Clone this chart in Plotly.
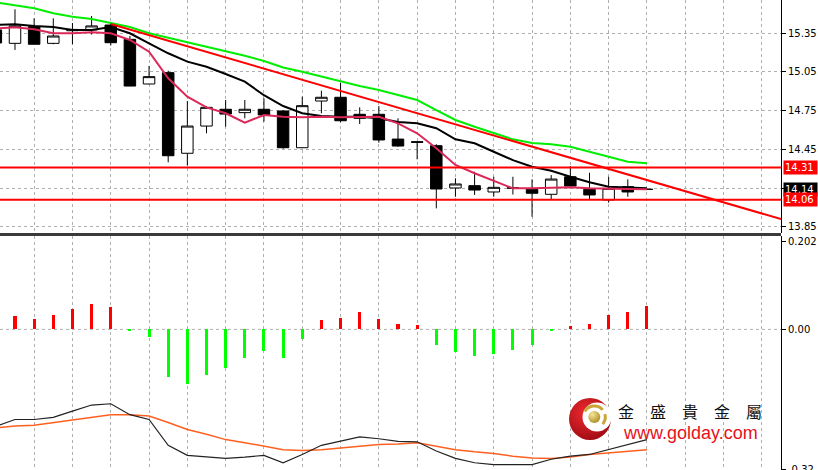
import base64
import plotly.graph_objects as go

# ---------------- data ----------------
idx = list(range(-1, 34))

opens = [15.376, 15.272, 15.401, 15.272, 15.370, 15.376, 15.414, 15.303, 14.957, 15.045,
         14.420, 14.631, 14.761, 14.735, 14.761, 14.748, 14.463, 14.825, 14.854, 14.722,
         14.722, 14.530, 14.510, 14.479, 14.151, 14.169, 14.120, 14.153, 14.141, 14.102,
         14.238, 14.141, 14.058, 14.161, 14.140]
highs = [15.400, 15.536, 15.466, 15.466, 15.430, 15.484, 15.430, 15.330, 15.097, 15.060,
         14.825, 14.786, 14.833, 14.833, 14.846, 14.755, 14.859, 14.905, 14.967, 14.776,
         14.786, 14.691, 14.515, 14.490, 14.226, 14.277, 14.238, 14.238, 14.218, 14.251,
         14.321, 14.269, 14.238, 14.218, 14.150]
lows = [15.250, 15.221, 15.265, 15.265, 15.265, 15.340, 15.255, 14.940, 14.955, 14.350,
        14.324, 14.575, 14.626, 14.691, 14.665, 14.455, 14.460, 14.730, 14.660, 14.647,
        14.502, 14.470, 14.373, 13.993, 14.083, 14.097, 14.083, 14.100, 13.928, 14.058,
        14.160, 14.063, 14.037, 14.083, 14.135]
closes = [15.275, 15.407, 15.265, 15.329, 15.380, 15.407, 15.277, 14.941, 15.014, 14.401,
          14.631, 14.776, 14.724, 14.761, 14.717, 14.463, 14.789, 14.854, 14.672, 14.691,
          14.523, 14.476, 14.505, 14.143, 14.182, 14.135, 14.156, 14.150, 14.110, 14.220,
          14.166, 14.097, 14.148, 14.120, 14.140]

ma_slow = [15.590, 15.569, 15.544, 15.505, 15.479, 15.461, 15.428, 15.399, 15.350, 15.316,
           15.280, 15.246, 15.213, 15.176, 15.135, 15.085, 15.052, 15.014, 14.975, 14.941,
           14.910, 14.872, 14.833, 14.755, 14.678, 14.626, 14.575, 14.528, 14.500, 14.490,
           14.470, 14.430, 14.390, 14.355, 14.342]
ma_mid = [15.414, 15.420, 15.407, 15.399, 15.376, 15.376, 15.399, 15.350, 15.272, 15.195,
          15.130, 15.091, 15.034, 14.975, 14.870, 14.786, 14.730, 14.709, 14.703, 14.703,
          14.691, 14.662, 14.652, 14.614, 14.528, 14.497, 14.432, 14.367, 14.316, 14.285,
          14.238, 14.195, 14.161, 14.153, 14.148]
ma_fast = [15.387, 15.397, 15.381, 15.350, 15.350, 15.358, 15.350, 15.298, 15.207, 15.001,
           14.859, 14.776, 14.730, 14.657, 14.717, 14.703, 14.699, 14.703, 14.699, 14.703,
           14.703, 14.652, 14.575, 14.459, 14.329, 14.265, 14.207, 14.148, 14.148, 14.153,
           14.156, 14.148, 14.148, 14.143, 14.141]

trend_x = [5, 40]
trend_y = [15.422, 13.910]
levels = [14.31, 14.06]

price_ticks = [15.35, 15.05, 14.75, 14.45, 14.15, 13.85]
price_tick_text = ["15.35", "15.05", "14.75", "14.45", "", "13.85"]

hist_idx = list(range(0, 34))
hist = [0.030, 0.023, 0.034, 0.046, 0.059, 0.051, -0.002, -0.018, -0.109, -0.124,
        -0.105, -0.089, -0.065, -0.050, -0.065, -0.023, 0.021, 0.025, 0.040, 0.023,
        0.013, 0.011, -0.036, -0.051, -0.061, -0.056, -0.046, -0.036, -0.004, 0.008,
        0.013, 0.032, 0.040, 0.053]
macd_line = [-0.222, -0.206, -0.206, -0.201, -0.187, -0.173, -0.170, -0.195, -0.206, -0.265,
             -0.288, -0.292, -0.295, -0.292, -0.288, -0.305, -0.286, -0.265, -0.256, -0.246,
             -0.250, -0.256, -0.257, -0.278, -0.295, -0.305, -0.309, -0.309, -0.309, -0.297,
             -0.290, -0.286, -0.275, -0.263, -0.252]
signal_line = [-0.225, -0.221, -0.219, -0.213, -0.208, -0.202, -0.195, -0.195, -0.198, -0.213,
               -0.229, -0.240, -0.252, -0.259, -0.267, -0.275, -0.277, -0.275, -0.271, -0.267,
               -0.263, -0.262, -0.259, -0.267, -0.275, -0.280, -0.284, -0.290, -0.294, -0.295,
               -0.292, -0.286, -0.282, -0.278, -0.275]
macd_ticks = [0.202, 0.0, -0.32]
macd_tick_text = ["0.202", "0.00", "-0.32"]

# ---------------- figure ----------------
W, H = 818, 470
PLOT_W = 781
GRID = "#b0b0b0"
FONT = "DejaVu Sans"

fig = go.Figure()

fig.add_trace(go.Candlestick(
    x=idx, open=opens, high=highs, low=lows, close=closes,
    increasing=dict(line=dict(color="black", width=1), fillcolor="white"),
    decreasing=dict(line=dict(color="black", width=1), fillcolor="black"),
    whiskerwidth=0, xaxis="x", yaxis="y", hoverinfo="skip", showlegend=False))

fig.add_trace(go.Scatter(x=idx, y=ma_slow, mode="lines", line=dict(color="#00ee00", width=2),
                         xaxis="x", yaxis="y", hoverinfo="skip"))
fig.add_trace(go.Scatter(x=trend_x, y=trend_y, mode="lines", line=dict(color="#ff0000", width=2),
                         xaxis="x", yaxis="y", hoverinfo="skip"))
fig.add_trace(go.Scatter(x=idx, y=ma_mid, mode="lines", line=dict(color="#000000", width=2),
                         xaxis="x", yaxis="y", hoverinfo="skip"))
fig.add_trace(go.Scatter(x=idx, y=ma_fast, mode="lines", line=dict(color="#dc2858", width=2),
                         xaxis="x", yaxis="y", hoverinfo="skip"))

hist_colors = ["#ff0000" if v > 0 else "#00ff00" for v in hist]
fig.add_trace(go.Bar(x=hist_idx, y=hist, marker=dict(color=hist_colors, line=dict(width=0)),
                     width=0.16, xaxis="x2", yaxis="y2", hoverinfo="skip"))
fig.add_trace(go.Scatter(x=idx, y=signal_line, mode="lines", line=dict(color="#ff6020", width=1.5),
                         xaxis="x2", yaxis="y2", hoverinfo="skip"))
fig.add_trace(go.Scatter(x=idx, y=macd_line, mode="lines", line=dict(color="#222222", width=1.2),
                         xaxis="x2", yaxis="y2", hoverinfo="skip"))

main_dom = [1 - 233 / H, 1]
sub_dom = [0, 1 - 236 / H]
xrange = [-0.783, 40.0]
odd_ticks = list(range(1, 40, 2))

axis_common = dict(tickfont=dict(family=FONT, size=10, color="black"), automargin=False)

fig.update_layout(
    width=W, height=H, margin=dict(l=0, r=W - PLOT_W, t=0, b=0),
    paper_bgcolor="white", plot_bgcolor="white", showlegend=False,
    boxgap=0.4, boxgroupgap=0, bargap=0,
    xaxis=dict(domain=[0, 1], range=xrange, anchor="y", showticklabels=False,
               tickvals=odd_ticks, showgrid=True, gridcolor=GRID, griddash="3px,3px",
               gridwidth=1, zeroline=False, ticks="", showline=False, automargin=False,
               rangeslider=dict(visible=False), fixedrange=True),
    xaxis2=dict(domain=[0, 1], range=xrange, anchor="y2", showticklabels=False,
                tickvals=odd_ticks, showgrid=True, gridcolor=GRID, griddash="3px,3px",
                gridwidth=1, zeroline=False, ticks="", showline=False, automargin=False),
    yaxis=dict(domain=main_dom, range=[13.802, 15.608], side="right", anchor="x",
               tickvals=price_ticks, ticktext=price_tick_text, showgrid=True,
               gridcolor=GRID, griddash="3px,3px", gridwidth=1, zeroline=False,
               ticks="outside", ticklen=4, tickcolor="black", showline=True,
               linecolor="black", linewidth=1, **axis_common),
    yaxis2=dict(domain=sub_dom, range=[-0.3215, 0.2135], side="right", anchor="x2",
                tickvals=macd_ticks, ticktext=macd_tick_text, showgrid=False,
                zeroline=False, ticks="outside", ticklen=4, tickcolor="black",
                showline=True, linecolor="black", linewidth=1,
                ticklabeloverflow="allow", **axis_common),
)

shapes = []
for lv in levels:
    shapes.append(dict(type="line", xref="paper", x0=0, x1=1, yref="y", y0=lv, y1=lv,
                       line=dict(color="#ff0000", width=2), layer="above"))
shapes.append(dict(type="line", xref="paper", x0=0, x1=1, yref="y2", y0=0, y1=0,
                   line=dict(color=GRID, width=1, dash="3px,3px"), layer="below"))
shapes.append(dict(type="line", xref="paper", x0=0, x1=1, yref="paper",
                   y0=1 - 234.5 / H, y1=1 - 234.5 / H,
                   line=dict(color="#3a3a3a", width=3), layer="above"))
fig.update_layout(shapes=shapes)

annotations = []
label_specs = [(levels[0], "#ff0000"), (closes[-1], "#000000"), (levels[1], "#ff0000")]
for val, bg in label_specs:
    annotations.append(dict(xref="paper", x=1, xanchor="left", xshift=2, yref="y", y=val,
                            yanchor="middle", text=f"{val:.2f}", showarrow=False,
                            bgcolor=bg, borderpad=1, width=31, align="left",
                            font=dict(family=FONT, size=10, color="white")))


def px_x(px):
    return px / PLOT_W


def px_y(py):
    return (H - py) / H


annotations.append(dict(xref="paper", yref="paper", x=px_x(690), y=px_y(411),
                        xanchor="center", yanchor="middle", showarrow=False,
                        text="金　盛　貴　金　屬",
                        font=dict(family="Noto Sans CJK TC", size=16, color="#111111")))
annotations.append(dict(xref="paper", yref="paper", x=px_x(690), y=px_y(433),
                        xanchor="center", yanchor="middle", showarrow=False,
                        text="www.golday.com",
                        font=dict(family="Liberation Sans", size=18, color="#e8101a")))
fig.update_layout(annotations=annotations)

logo_svg = """<svg xmlns="http://www.w3.org/2000/svg" width="46" height="46" viewBox="0 0 46 46">
<defs>
<radialGradient id="r" cx="0.4" cy="0.35" r="0.75"><stop offset="0" stop-color="#ee2a30"/><stop offset="1" stop-color="#9a0810"/></radialGradient>
<radialGradient id="g" cx="0.35" cy="0.3" r="0.8"><stop offset="0" stop-color="#f6e79a"/><stop offset="1" stop-color="#a8861c"/></radialGradient>
</defs>
<circle cx="23" cy="23" r="21" fill="url(#r)"/>
<circle cx="30" cy="21" r="14.5" fill="white"/>
<path d="M 17.8 15.5 A 11 11 0 0 1 35.7 13.9" stroke="#c9a636" stroke-width="3" fill="none"/>
<path d="M 37.9 18.2 A 11 11 0 0 1 35.7 28.1" stroke="#c9a636" stroke-width="3" fill="none"/>
<circle cx="27.3" cy="21" r="6" fill="url(#g)"/>
</svg>"""
logo_src = "data:image/svg+xml;base64," + base64.b64encode(logo_svg.encode()).decode()
fig.update_layout(images=[dict(source=logo_src, xref="paper", yref="paper",
                               x=px_x(567), y=px_y(396), sizex=46 / PLOT_W, sizey=46 / H,
                               xanchor="left", yanchor="top", sizing="stretch", layer="above")])

post = (
    "document.documentElement.style.overflow='hidden';"
    "document.body.style.margin='0';document.body.style.overflow='hidden';"
)
fig.write_html("out.html", config={"displayModeBar": False}, post_script=post)
